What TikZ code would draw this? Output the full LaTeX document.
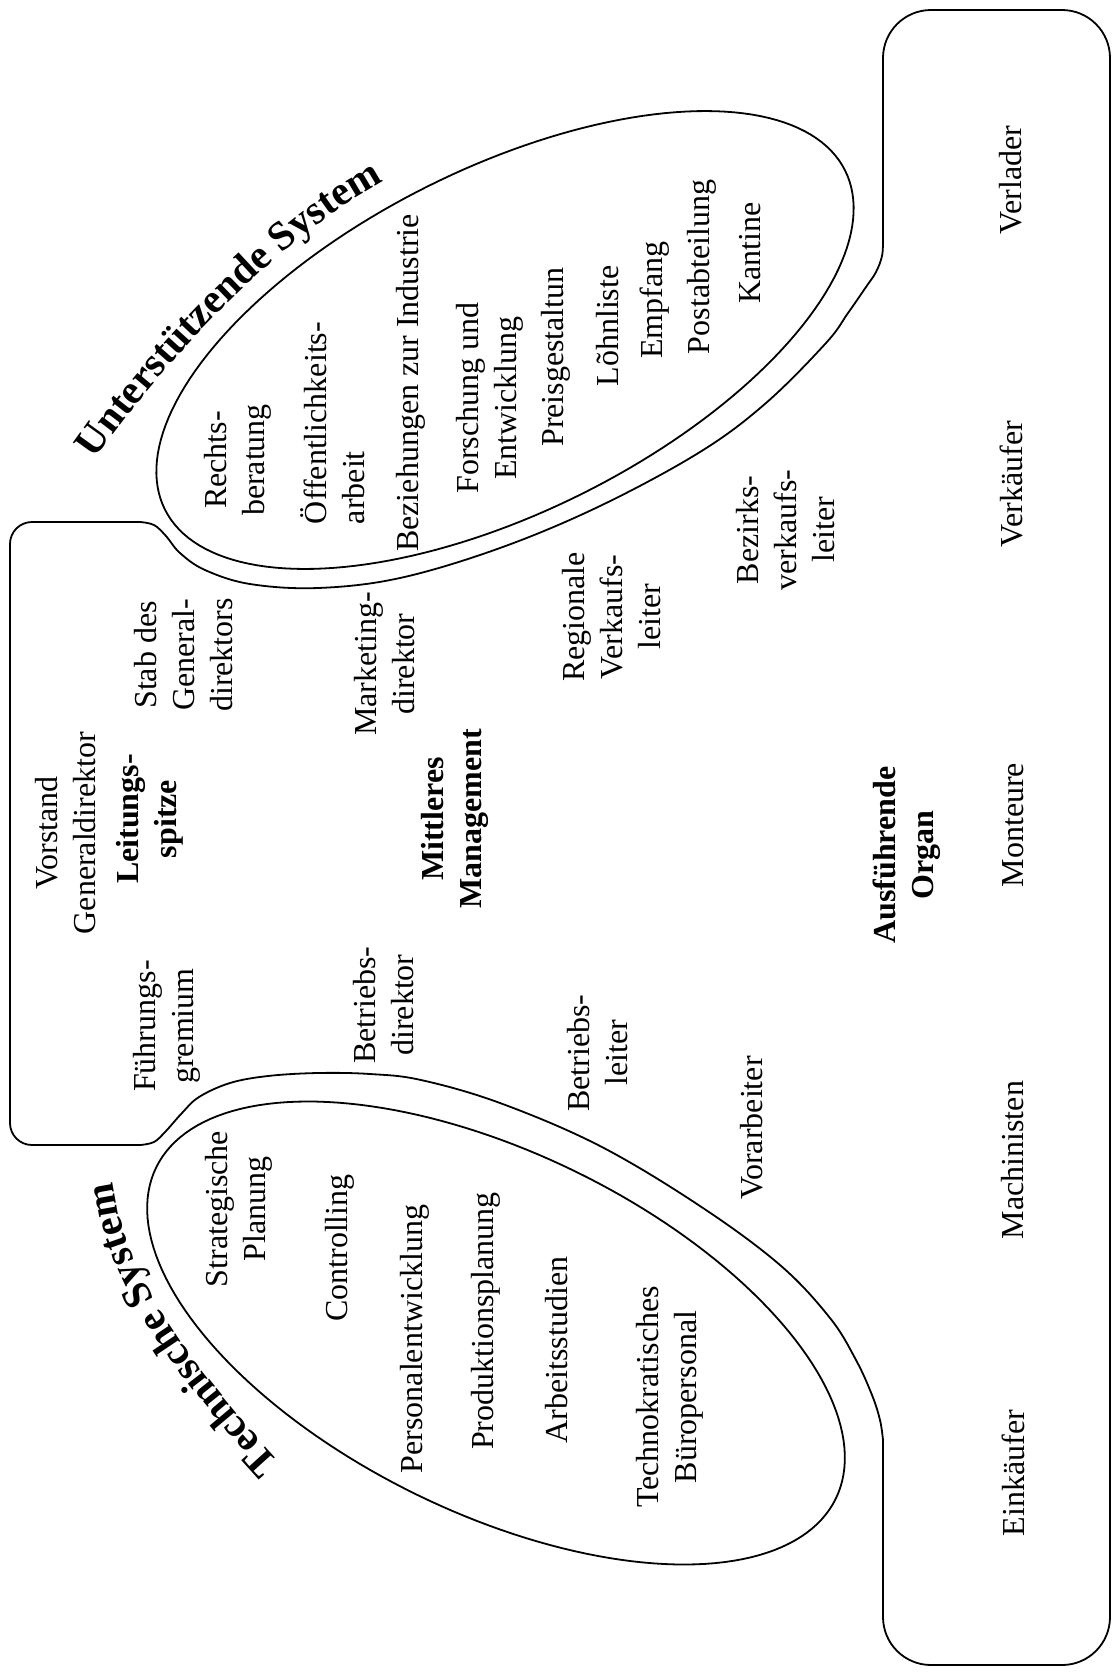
\documentclass[tikz,border=0pt]{standalone}
\usepackage{fontspec}
\setmainfont{Liberation Serif}
\usetikzlibrary{decorations.text}
\newcommand\ttlfont{\fontsize{41}{41}\selectfont\bfseries}
\begin{document}
\begin{tikzpicture}[x=1pt,y=-1pt,
  lbl/.style={rotate=90, align=center, inner sep=0pt, font=\fontsize{32}{38}\selectfont},
  lblb/.style={lbl, font=\fontsize{32}{38}\selectfont\bfseries},
  lbll/.style={lbl, align=left},
  outl/.style={line width=1.8pt, line join=round, line cap=round}]
\useasboundingbox (0,0) rectangle (1112,1674);

% right shape (operating core)
\draw[outl, rounded corners=48] (883,240) -- (883,10) -- (1110,10) -- (1110,1665) -- (883,1665) -- (883,1440);
% left shape (strategic apex)
\draw[outl, rounded corners=22] (140,522) -- (10,522) -- (10,1145) -- (140,1145);
% outer contour around support staff
\draw[outl] plot[smooth, tension=0.6] coordinates {(883,240) (882,256) (876,272) (866,287) (848,313) (826,343) (766,403) (700,452) (600,506) (500,548) (400,578) (318,588) (250,584) (205,570) (180,553) (166,536) (154,525) (140,522)};
% outer contour around technostructure
\draw[outl] plot[smooth, tension=0.6] coordinates {(140,1145) (154,1142) (166,1131) (182,1113) (199,1097) (230,1083) (268,1076) (318,1073) (370,1074) (421,1080) (500,1103) (600,1146) (700,1206) (780,1265) (830,1318) (856,1360) (872,1395) (880,1420) (883,1440)};

% ellipses
\draw[outl] plot[domain=0:360, samples=181, variable=\t]
  ({505 + 380*cos(\t)*0.895 + 172*sin(\t)*0.446}, {340 - 380*cos(\t)*0.446 + 172*sin(\t)*0.895}) -- cycle;
\draw[outl] plot[domain=0:360, samples=181, variable=\t]
  ({496 + 378*cos(\t)*0.899 + 180*sin(\t)*0.438}, {1333 + 378*cos(\t)*0.438 - 180*sin(\t)*0.899}) -- cycle;

% curved titles
\path[decorate, decoration={text along path, text={|\ttlfont|Unterstützende System}}]
  (95,460) .. controls (163,362) and (276,244) .. (372,188) -- (430,155);
\path[decorate, decoration={text along path, text={|\ttlfont|Technische System}}]
  (280,1462) .. controls (206,1381) and (126,1285) .. (114,1186) -- (108,1130);

% strategic apex / middle line / operating core
\node[lbl] (vorstand) at (66,833) {Vorstand\\Generaldirektor};
\node[lblb] (spitze) at (150,819) {Leitungs-\\spitze};
\node[lbl] (fuehr) at (167,1026) {Führungs-\\gremium};
\node[lbl] (stab) at (184,655) {Stab des\\General-\\direktors};
\node[lbl] (mdir) at (385,664) {Marketing-\\direktor};
\node[lbl] (bdir) at (384,1005) {Betriebs-\\direktor};
\node[lblb] (mm) at (455,819) {Mittleres\\Management};
\node[lbl] (rvl) at (612,617) {Regionale\\Verkaufs-\\leiter};
\node[lbl] (bl) at (598,1053) {Betriebs-\\leiter};
\node[lbl] (bvl) at (786,530) {Bezirks-\\verkaufs-\\leiter};
\node[lbl] (vorarb) at (752,1128) {Vorarbeiter};
\node[lblb] (ao) at (907,855) {Ausführende\\Organ};
\node[lbl] (verlader) at (1011,180) {Verlader};
\node[lbl] (verkaeufer) at (1011,484) {Verkäufer};
\node[lbl] (monteure) at (1013,825) {Monteure};
\node[lbl] (machin) at (1013,1160) {Machinisten};
\node[lbl] (einkaeufer) at (1013,1473) {Einkäufer};

% support staff
\node[lbl] (recht) at (238,460) {Rechts-\\beratung};
\node[lbll] (oeff) at (333,423) {Öffentlichkeits-\\arbeit};
\node[lbl] (bez) at (411,383) {Beziehungen zur Industrie};
\node[lbl] (fe) at (490,398) {Forschung und\\Entwicklung};
\node[lbl] (preis) at (556,357) {Preisgestaltun};
\node[lbl] (lohn) at (608,326) {Lõhnliste};
\node[lbl] (empf) at (655,300) {Empfang};
\node[lbl] (post) at (702,267) {Postabteilung};
\node[lbl] (kant) at (750,253) {Kantine};

% technostructure
\node[lbl] (strat) at (239,1209) {Strategische\\Planung};
\node[lbl] (contr) at (340,1248) {Controlling};
\node[lbl] (pers) at (415,1339) {Personalentwicklung};
\node[lbl] (prod) at (486,1321) {Produktionsplanung};
\node[lbl] (arb) at (557,1350) {Arbeitsstudien};
\node[lbl] (tech) at (670,1397) {Technokratisches\\Büropersonal};
\end{tikzpicture}
\end{document}
